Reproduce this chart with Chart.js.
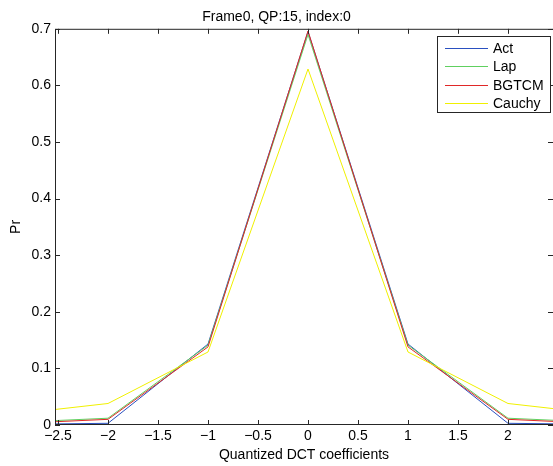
<!DOCTYPE html>
<html>
<head>
<meta charset="utf-8">
<script src="https://cdn.jsdelivr.net/npm/chart.js@4/dist/chart.umd.min.js"></script>
<style>
  html, body { margin: 0; padding: 0; background: #fff; }
  #wrap { width: 553px; height: 466px; }
</style>
</head>
<body>
<div id="wrap"><canvas id="c" width="553" height="466"></canvas></div>
<script>
const xs = [-3, -2, -1, 0, 1, 2, 3];
const act    = [0.001, 0.003, 0.143, 0.695, 0.143, 0.003, 0.001];
const lap    = [0.004, 0.012, 0.141, 0.690, 0.141, 0.012, 0.004];
const bgtcm  = [0.002, 0.010, 0.138, 0.696, 0.138, 0.010, 0.002];
const cauchy = [0.018, 0.038, 0.129, 0.629, 0.129, 0.038, 0.018];
const xTicks = [-2.5, -2, -1.5, -1, -0.5, 0, 0.5, 1, 1.5, 2];
const yTicks = [0, 0.1, 0.2, 0.3, 0.4, 0.5, 0.6, 0.7];

const font = 'Arial, "Liberation Sans", Helvetica, sans-serif';
const fmt = v => (v < 0 ? '\u2212' + (-v) : String(v));

// order: later series are drawn on top, like MATLAB's hold on
function series(label, vals, color, order) {
  return {
    label,
    data: xs.map((x, i) => ({ x, y: vals[i] })),
    borderColor: color,
    backgroundColor: color,
    borderWidth: 1,
    pointRadius: 0,
    tension: 0,
    order
  };
}

// MATLAB style box, inward ticks and legend
const frame = {
  id: 'frame',
  afterDraw(chart) {
    const { ctx, chartArea: a, scales } = chart;
    ctx.save();
    ctx.strokeStyle = '#262626';
    ctx.lineWidth = 1;
    ctx.strokeRect(a.left + 0.5, a.top + 0.5, a.right - a.left, a.bottom - a.top - 1);
    ctx.beginPath();
    scales.x.ticks.forEach(t => {
      const px = Math.round(scales.x.getPixelForValue(t.value)) + 0.5;
      ctx.moveTo(px, a.bottom); ctx.lineTo(px, a.bottom - 5);
      ctx.moveTo(px, a.top); ctx.lineTo(px, a.top + 5);
    });
    scales.y.ticks.forEach(t => {
      const py = Math.round(scales.y.getPixelForValue(t.value)) + 0.5;
      ctx.moveTo(a.left, py); ctx.lineTo(a.left + 5, py);
      ctx.moveTo(a.right, py); ctx.lineTo(a.right - 5, py);
    });
    ctx.stroke();

    // legend, listed in dataset order
    const ds = chart.data.datasets;
    const lx = 437, ly = 36, lw = 114, lh = 77, rowH = 18.1;
    ctx.fillStyle = '#fff';
    ctx.fillRect(lx, ly, lw, lh);
    ctx.strokeStyle = '#262626';
    ctx.strokeRect(lx + 0.5, ly + 0.5, lw - 1, lh - 1);
    ctx.font = '14px ' + font;
    ctx.textBaseline = 'middle';
    ds.forEach((d, i) => {
      const y = Math.round(ly + 12.3 + i * rowH) + 0.5;
      ctx.strokeStyle = d.borderColor;
      ctx.beginPath();
      ctx.moveTo(lx + 8, y); ctx.lineTo(lx + 51, y);
      ctx.stroke();
      ctx.fillStyle = '#000';
      ctx.fillText(d.label, lx + 56, y + 1);
    });
    ctx.restore();
  }
};

new Chart(document.getElementById('c'), {
  type: 'line',
  data: {
    datasets: [
      series('Act', act, '#2a50c0', 4),
      series('Lap', lap, '#60d060', 3),
      series('BGTCM', bgtcm, '#e02828', 2),
      series('Cauchy', cauchy, '#f0f000', 1)
    ]
  },
  plugins: [frame],
  options: {
    responsive: false,
    animation: false,
    layout: { padding: 0 },
    plugins: {
      legend: { display: false },
      tooltip: { enabled: false },
      title: {
        display: true,
        text: 'Frame0, QP:15, index:0',
        color: '#000',
        font: { family: font, size: 14, weight: 'normal' },
        padding: { top: 9, bottom: 3 }
      }
    },
    scales: {
      x: {
        type: 'linear',
        min: -2.53,
        max: 2.45,
        afterBuildTicks: s => { s.ticks = xTicks.map(v => ({ value: v })); },
        afterFit: s => { s.height = 41; },
        grid: { display: false, drawTicks: false, tickLength: 0 },
        border: { display: false },
        ticks: {
          color: '#000',
          font: { family: font, size: 14 },
          padding: 3,
          maxRotation: 0,
          autoSkip: false,
          callback: v => fmt(v)
        },
        title: {
          display: true,
          text: 'Quantized DCT coefficients',
          color: '#000',
          font: { family: font, size: 14 },
          padding: { top: 1, bottom: 2 }
        }
      },
      y: {
        min: 0,
        max: 0.7,
        afterBuildTicks: s => { s.ticks = yTicks.map(v => ({ value: v })); },
        afterFit: s => { s.width = 55; },
        grid: { display: false, drawTicks: false, tickLength: 0 },
        border: { display: false },
        ticks: {
          color: '#000',
          font: { family: font, size: 14 },
          padding: 4,
          callback: v => fmt(Math.round(v * 10) / 10)
        },
        title: {
          display: true,
          text: 'Pr',
          color: '#000',
          font: { family: font, size: 14 },
          padding: { top: 8, bottom: 4 }
        }
      }
    }
  }
});
</script>
</body>
</html>
